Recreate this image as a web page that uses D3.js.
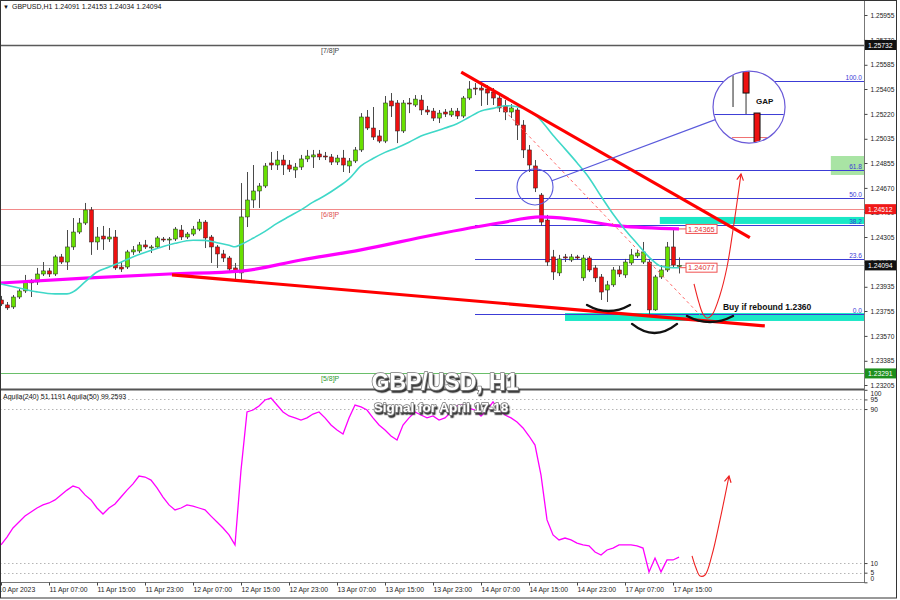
<!DOCTYPE html>
<html>
<head>
<meta charset="utf-8">
<script src="https://cdn.jsdelivr.net/npm/d3@7/dist/d3.min.js"></script>
<style>
html,body{margin:0;padding:0;background:#fff;}
svg{display:block;}
</style>
</head>
<body>
<svg id="chart" width="900" height="600"></svg>
<script>
// ---------------- DATA ----------------
const symbolLabel = "GBPUSD,H1";
// hourly candles, bar 0 = 10 Apr 23:00 ... bar 113 = 17 Apr 16:00
const opens = [
1.23837,1.23800,1.23785,1.23859,1.23904,1.23979,1.23971,1.24030,1.24053,1.24030,
1.24157,1.24119,1.24231,1.24342,1.24409,1.24506,1.24268,1.24312,1.24290,1.24305,
1.24082,1.24082,1.24194,1.24201,1.24246,1.24224,1.24231,1.24290,1.24283,1.24290,
1.24357,1.24305,1.24327,1.24364,1.24416,1.24305,1.24231,1.24179,1.24149,1.24075,
1.24038,1.24454,1.24580,1.24647,1.24684,1.24855,1.24840,1.24877,1.24840,1.24803,
1.24825,1.24885,1.24900,1.24922,1.24907,1.24900,1.24862,1.24892,1.24833,1.24870,
1.24952,1.25197,1.25115,1.25056,1.25018,1.25316,1.25301,1.25093,1.25301,1.25286,
1.25323,1.25249,1.25241,1.25189,1.25234,1.25212,1.25241,1.25204,1.25338,1.25412,
1.25412,1.25405,1.25382,1.25338,1.25279,1.25234,1.25249,1.25137,1.24952,1.24833,
1.24617,1.24431,1.24157,1.24038,1.24157,1.24134,1.24157,1.24001,1.24149,1.24075,
1.24008,1.23911,1.23949,1.24060,1.24023,1.24112,1.24164,1.24119,1.24119,1.23763,
1.24008,1.24060,1.24231,1.24091];
const highs = [
1.23867,1.23822,1.23874,1.23918,1.24023,1.23993,1.24075,1.24119,1.24075,1.24172,
1.24179,1.24357,1.24446,1.24446,1.24558,1.24528,1.24379,1.24387,1.24372,1.24357,
1.24119,1.24209,1.24238,1.24268,1.24283,1.24246,1.24312,1.24305,1.24305,1.24379,
1.24394,1.24342,1.24387,1.24439,1.24431,1.24320,1.24246,1.24209,1.24164,1.24112,
1.24706,1.24788,1.24840,1.24706,1.24855,1.24937,1.24944,1.24915,1.24877,1.24855,
1.24915,1.24952,1.24952,1.24952,1.24937,1.24922,1.24915,1.24952,1.24892,1.24974,
1.25226,1.25249,1.25271,1.25100,1.25353,1.25375,1.25323,1.25323,1.25338,1.25360,
1.25360,1.25279,1.25264,1.25249,1.25256,1.25264,1.25264,1.25353,1.25464,1.25449,
1.25442,1.25434,1.25412,1.25368,1.25323,1.25293,1.25264,1.25174,1.24989,1.24877,
1.24632,1.24469,1.24209,1.24172,1.24179,1.24179,1.24172,1.24172,1.24164,1.24097,
1.24030,1.23979,1.24082,1.24090,1.24142,1.24216,1.24209,1.24268,1.24134,1.24023,
1.24097,1.24268,1.24365,1.24153];
const lows = [
1.23792,1.23763,1.23770,1.23844,1.23889,1.23859,1.23949,1.24015,1.24008,1.24015,
1.24104,1.24060,1.24209,1.24327,1.24394,1.24172,1.24209,1.24209,1.24268,1.24060,
1.24045,1.24067,1.24172,1.24186,1.24216,1.24186,1.24216,1.24268,1.24209,1.24275,
1.24283,1.24290,1.24312,1.24349,1.24223,1.24112,1.24075,1.24119,1.24045,1.23986,
1.23986,1.24379,1.24521,1.24521,1.24669,1.24803,1.24803,1.24766,1.24788,1.24744,
1.24803,1.24862,1.24818,1.24877,1.24877,1.24840,1.24840,1.24788,1.24781,1.24855,
1.24937,1.25100,1.25026,1.25003,1.25003,1.25197,1.25003,1.25078,1.25226,1.25271,
1.25212,1.25212,1.25167,1.25152,1.25197,1.25197,1.25182,1.25189,1.25323,1.25360,
1.25279,1.25286,1.25286,1.25234,1.25174,1.25189,1.25026,1.24892,1.24788,1.24639,
1.24387,1.24090,1.23986,1.24015,1.24119,1.24119,1.24134,1.23979,1.24045,1.23971,
1.23837,1.23822,1.23934,1.24008,1.24001,1.24097,1.24149,1.24104,1.23733,1.23756,
1.23993,1.24045,1.24082,1.24034];
const closes = [
1.23807,1.23778,1.23859,1.23904,1.23971,1.23964,1.24030,1.24053,1.24030,1.24157,
1.24119,1.24231,1.24342,1.24409,1.24506,1.24268,1.24305,1.24290,1.24305,1.24075,
1.24067,1.24194,1.24209,1.24246,1.24231,1.24231,1.24298,1.24283,1.24290,1.24364,
1.24305,1.24327,1.24364,1.24416,1.24298,1.24231,1.24179,1.24149,1.24067,1.24045,
1.24454,1.24580,1.24647,1.24684,1.24833,1.24840,1.24877,1.24840,1.24810,1.24825,
1.24885,1.24907,1.24915,1.24900,1.24900,1.24862,1.24892,1.24840,1.24870,1.24952,
1.25197,1.25115,1.25048,1.25018,1.25301,1.25279,1.25093,1.25301,1.25294,1.25330,
1.25249,1.25234,1.25189,1.25226,1.25219,1.25241,1.25204,1.25338,1.25405,1.25405,
1.25397,1.25375,1.25338,1.25264,1.25234,1.25264,1.25137,1.24952,1.24840,1.24669,
1.24416,1.24119,1.24045,1.24142,1.24149,1.24157,1.24149,1.24149,1.24060,1.24001,
1.23896,1.23949,1.24060,1.24030,1.24119,1.24172,1.24186,1.24194,1.23763,1.24008,
1.24060,1.24231,1.24097,1.24094];

// moving averages (bar index, price)
const maFastIdx = [0,3,6,9,11,12,14,16,18,20,23,26,29,32,34,36,38,39,40,42,44,46,48,50,52,54,56,58,60,62,64,66,68,70,72,74,76,78,80,82,84,86,88,90,92,94,96,98,100,102,104,106,108,110,112,113];
const maFastVal = [1.23956,1.23926,1.23897,1.23882,1.23882,1.23897,1.23971,1.24045,1.24082,1.24118,1.24175,1.24219,1.24258,1.24281,1.24280,1.24262,1.24244,1.24232,1.24250,1.24296,1.24347,1.24406,1.24457,1.24507,1.24564,1.24613,1.24671,1.24737,1.24833,1.24888,1.24934,1.24968,1.25009,1.25055,1.25085,1.25115,1.25147,1.25195,1.25242,1.25261,1.25281,1.25273,1.25244,1.25171,1.25061,1.24960,1.24857,1.24746,1.24608,1.24476,1.24359,1.24257,1.24156,1.24087,1.24076,1.24077];
const maSlowIdx = [0,14,28,40,50,60,72,83,90,95,103,113];
const maSlowVal = [1.23963,1.24000,1.24030,1.24052,1.24134,1.24209,1.24320,1.24409,1.24454,1.24439,1.24387,1.24365];

// indicator (Aquila) values per bar
const aquilaVal = [
19.4,23.5,28.2,31.3,34.4,36.5,38.6,40.2,41.2,42.8,
45.4,47.9,50.0,49.0,45.4,42.8,38.6,35.5,38.6,40.7,
44.3,47.9,51.1,55.2,54.7,53.1,49.0,44.3,40.2,37.6,
38.6,40.2,39.6,38.6,37.6,34.4,31.3,28.2,24.6,19.4,
58.3,88.5,89.5,91.6,94.7,95.7,92.1,88.5,86.4,85.4,
84.3,85.4,87.4,88.5,85.4,81.7,79.1,77.0,85.4,92.1,
91.1,89.5,85.4,81.7,79.1,76.0,73.9,81.7,85.4,88.5,
86.9,85.4,86.4,84.3,85.4,88.5,91.6,92.1,90.5,89.5,
86.4,89.5,93.7,89.5,86.9,85.4,83.3,80.2,76.0,71.3,
55.7,32.4,24.6,22.0,23.0,22.0,20.4,19.4,18.9,15.7,
14.2,16.8,17.8,19.4,19.4,19.4,18.9,17.8,5.4,12.6,
5.4,11.6,11.6,13.1];
const indicatorHeader = "Aquila(240) 51.1191  Aquila(50) 99.2593";
const indicatorLevels = [100, 95, 90, 10, 5, 0];
const indicatorDotted = [95, 90, 10, 5];

// axis ticks
const priceTicks = [1.25955,1.25770,1.25585,1.25405,1.25220,1.25035,1.24855,1.24670,1.24490,1.24305,1.24120,1.23935,1.23755,1.23570,1.23385,1.23205];
const timeTickIdx = [0,8,16,24,32,40,48,56,64,72,80,88,96,104,112];
const timeTickLabels = ["10 Apr 2023","11 Apr 07:00","11 Apr 15:00","11 Apr 23:00","12 Apr 07:00","12 Apr 15:00","12 Apr 23:00","13 Apr 07:00","13 Apr 15:00","13 Apr 23:00","14 Apr 07:00","14 Apr 15:00","14 Apr 23:00","17 Apr 07:00","17 Apr 15:00"];

// horizontal levels
const murreyNames = ["[7/8]P","[6/8]P","[5/8]P"];
const murreyPrices = [1.25732,1.24512,1.23291];
const fibRatios = [100,61.8,50,38.2,23.6,0];
const fibHigh = 1.25464, fibLow = 1.23733, fibStartIdx = 79;

// annotation objects (bar index, price)
const zoneUpper = {start:109.8, top:1.24454, bottom:1.24402};
const zoneLower = {start:94, top:1.23740, bottom:1.23681};
const zoneFib = {start:138.3, top:1.24907, bottom:1.24766};
const trendUpper = [[76.7,1.25530],[124.8,1.24300]];
const trendLower = [[28.5,1.24023],[127.3,1.23644]];
const trendDashed = [[83.2,1.25278],[116.5,1.23725]];
const projPath = [[115.5,1.23956],[116.33,1.23815],[117,1.23733],[117.67,1.23703],[118.5,1.23726],[119.83,1.23874],[121,1.24082],[122,1.24357],[123.33,1.24773]];
const projInd = [[115.17,13.7],[115.83,7.4],[116.5,3.3],[117.33,3.8],[118.5,14.2],[119.83,32.4],[121.33,55.2]];
const smiles = [[97.67,104.83,1.23800,1.23755],[105.17,112.67,1.23659,1.23592],[114.33,122,1.23718,1.23673]];
const gapCircle = {idx:89, price:1.24677};
const magnifier = {idx:124.67, price:1.25271};
const buyText = {idx:120.33, price:1.23763, text:"Buy if rebound 1.2360"};
const titleText = "GBP/USD, H1";
const subtitleText = "Signal for April 17-18";

// ---------------- DRAWING ----------------
const FONT = '"Liberation Sans", Arial, sans-serif';
const svg = d3.select('#chart');
const PR = 864, MB = 389, IT = 390, IB = 582;
const x = d3.scaleLinear().domain([0, 143.83]).range([1, 864]);
const y = d3.scaleLinear().domain([1.23205, 1.25955]).range([385, 15]);
const yI = d3.scaleLinear().domain([0, 100]).range([582.3, 389.8]);
const fmtP = d3.format('.5f');
const last = closes.length - 1;

svg.append('rect').attr('width',900).attr('height',600).attr('fill','#fff');
const defs = svg.append('defs');
defs.append('clipPath').attr('id','cm').append('rect').attr('x',0).attr('y',0).attr('width',PR).attr('height',MB);
defs.append('clipPath').attr('id','ci').append('rect').attr('x',0).attr('y',IT).attr('width',PR).attr('height',IB-IT);
const shadow = defs.append('filter').attr('id','tshadow').attr('x','-10%').attr('y','-30%').attr('width','120%').attr('height','170%');
shadow.append('feDropShadow').attr('dx',1.3).attr('dy',2.2).attr('stdDeviation',0.6)
  .attr('flood-color','#333').attr('flood-opacity',0.95);
const gm = svg.append('g').attr('clip-path','url(#cm)');
const gi = svg.append('g').attr('clip-path','url(#ci)');

// zones
function zone(z, col){
  gm.append('rect').attr('x',x(z.start)).attr('y',y(z.top)).attr('width',PR - x(z.start))
    .attr('height',y(z.bottom)-y(z.top)).attr('fill',col);
}
zone(zoneUpper,'#19e8c6');
zone(zoneLower,'#19e8c6');
zone(zoneFib,'#a9e4a4');

// murrey lines
const mmColors = ['#5a5a5a','#f28a8a','#6abf6a'];
const mmWidths = [1.4,1.2,1.2];
murreyPrices.forEach((p,k)=>{
  gm.append('line').attr('x1',0).attr('x2',PR).attr('y1',Math.round(y(p))+0.5).attr('y2',Math.round(y(p))+0.5)
    .attr('stroke',mmColors[k]).attr('stroke-width',mmWidths[k]);
  gm.append('text').attr('x',321).attr('y',y(p)+8).text(murreyNames[k])
    .attr('font-family',FONT).attr('font-size',7).attr('fill',k===0?'#444':(k===1?'#e05050':'#2f9a2f'));
});
// bid line
gm.append('line').attr('x1',0).attr('x2',PR).attr('y1',Math.round(y(closes[last]))+0.5).attr('y2',Math.round(y(closes[last]))+0.5)
  .attr('stroke','#b8b8b8').attr('stroke-width',1);

// fibonacci
fibRatios.forEach(r=>{
  const p = fibLow + (fibHigh-fibLow)*r/100;
  const yy = Math.round(y(p))+0.5;
  gm.append('line').attr('x1',x(fibStartIdx)).attr('x2',PR).attr('y1',yy).attr('y2',yy)
    .attr('stroke','#3c3cd6').attr('stroke-width',1);
  gm.append('text').attr('x',862).attr('y',yy-2).attr('text-anchor','end').text(d3.format('.1f')(r))
    .attr('font-family',FONT).attr('font-size',6.6).attr('fill','#3c3cd6');
});

// candles
const candles = d3.range(opens.length).map(i=>({i,o:opens[i],h:highs[i],l:lows[i],c:closes[i]}));
const gc = gm.append('g');
gc.selectAll('line.w').data(candles).join('line').attr('class','w')
  .attr('x1',d=>Math.round(x(d.i))+0.5).attr('x2',d=>Math.round(x(d.i))+0.5)
  .attr('y1',d=>y(d.h)).attr('y2',d=>y(d.l)).attr('stroke','#4a4a4a').attr('stroke-width',1);
gc.selectAll('rect.b').data(candles).join('rect').attr('class','b')
  .attr('x',d=>Math.round(x(d.i))-1.5).attr('width',4)
  .attr('y',d=>Math.min(y(d.o),y(d.c))).attr('height',d=>Math.max(1,Math.abs(y(d.o)-y(d.c))))
  .attr('fill',d=>d.c>=d.o?'#68e000':'#ee1010').attr('stroke','#222').attr('stroke-width',0.5);

// moving averages
const lineIdx = d3.line().x(d=>x(d[0])).y(d=>y(d[1])).curve(d3.curveMonotoneX);
gm.append('path').attr('d',lineIdx(maSlowIdx.map((v,k)=>[v,maSlowVal[k]])))
  .attr('fill','none').attr('stroke','#ff00ff').attr('stroke-width',3.2);
gm.append('path').attr('d',lineIdx(maFastIdx.map((v,k)=>[v,maFastVal[k]])))
  .attr('fill','none').attr('stroke','#3fd8c8').attr('stroke-width',1.6);

// trend lines
const lineStraight = d3.line().x(d=>x(d[0])).y(d=>y(d[1]));
gm.append('path').attr('d',lineStraight(trendDashed)).attr('fill','none').attr('stroke','#ff6a6a')
  .attr('stroke-width',1).attr('stroke-dasharray','3,3');
[trendUpper,trendLower].forEach(t=>{
  gm.append('path').attr('d',lineStraight(t)).attr('fill','none').attr('stroke','#ff0000').attr('stroke-width',3.2);
});

// smiles
smiles.forEach(s=>{
  const x1=x(s[0]), x2=x(s[1]), ye=y(s[2]), yb=y(s[3]);
  const cy = 2*yb-ye;
  gm.append('path').attr('d',`M${x1},${ye} Q${(x1+x2)/2},${cy} ${x2},${ye}`)
    .attr('fill','none').attr('stroke','#111').attr('stroke-width',2.4).attr('stroke-linecap','round');
});

// arrow helper
function arrowHead(g, p1, p2, color){
  const a = Math.atan2(p2[1]-p1[1], p2[0]-p1[0]);
  const L=7, w=0.5;
  const pts = [[p2[0]-L*Math.cos(a-w), p2[1]-L*Math.sin(a-w)], p2, [p2[0]-L*Math.cos(a+w), p2[1]-L*Math.sin(a+w)]];
  g.append('path').attr('d', d3.line()(pts)).attr('fill','none').attr('stroke',color).attr('stroke-width',1.2);
}
// projection in main chart
const projPx = projPath.map(d=>[x(d[0]),y(d[1])]);
gm.append('path').attr('d',d3.line().curve(d3.curveCatmullRom)(projPx)).attr('fill','none')
  .attr('stroke','#ee2222').attr('stroke-width',1.1);
arrowHead(gm, projPx[projPx.length-2], projPx[projPx.length-1], '#ee2222');

// small gap circle + connector + magnifier
const gcx = x(gapCircle.idx), gcy = y(gapCircle.price), gr = 18;
const mx = x(magnifier.idx), my = y(magnifier.price), mr = 36;
gm.append('circle').attr('cx',gcx).attr('cy',gcy).attr('r',gr).attr('fill','none').attr('stroke','#5b5bdc').attr('stroke-width',1.1);
const ang = Math.atan2(my-gcy, mx-gcx);
gm.append('line').attr('x1',gcx+gr*Math.cos(ang)).attr('y1',gcy+gr*Math.sin(ang))
  .attr('x2',mx-mr*Math.cos(ang)).attr('y2',my-mr*Math.sin(ang)).attr('stroke','#5b5bdc').attr('stroke-width',1.1);
gm.append('circle').attr('cx',mx).attr('cy',my).attr('r',mr).attr('fill','#fff');
defs.append('clipPath').attr('id','cmag').append('circle').attr('cx',mx).attr('cy',my).attr('r',mr-0.5);
const gmag = gm.append('g').attr('clip-path','url(#cmag)');
gmag.append('line').attr('x1',mx-16).attr('x2',mx-16).attr('y1',my-36).attr('y2',my).attr('stroke','#777').attr('stroke-width',1.6);
gmag.append('line').attr('x1',mx-3).attr('x2',mx-3).attr('y1',my-14).attr('y2',my+8).attr('stroke','#555').attr('stroke-width',1.2);
gmag.append('rect').attr('x',mx-6).attr('y',my-40).attr('width',6).attr('height',26).attr('fill','#ee1010').attr('stroke','#111').attr('stroke-width',1);
gmag.append('line').attr('x1',mx-mr).attr('x2',mx+mr).attr('y1',my+7.5).attr('y2',my+7.5).attr('stroke','#3c3cd6').attr('stroke-width',1);
gmag.append('line').attr('x1',mx-17).attr('x2',mx+21).attr('y1',my+30.5).attr('y2',my+30.5).attr('stroke','#f07070').attr('stroke-width',1);
gmag.append('rect').attr('x',mx+5).attr('y',my+6).attr('width',6).attr('height',34).attr('fill','#ee1010').attr('stroke','#111').attr('stroke-width',1);
gm.append('circle').attr('cx',mx).attr('cy',my).attr('r',mr).attr('fill','none').attr('stroke','#6a5ad8').attr('stroke-width',1.2);
gm.append('text').attr('x',mx+7).attr('y',my-3).text('GAP').attr('font-family',FONT).attr('font-weight','bold')
  .attr('font-size',8).attr('fill','#111');

// MA value tags
function tag(price, label){
  const yy = y(price), x0 = x(last)+7;
  gm.append('line').attr('x1',x(last)).attr('x2',x0).attr('y1',yy).attr('y2',yy).attr('stroke','#f05050').attr('stroke-width',1);
  gm.append('rect').attr('x',x0).attr('y',yy-4.5).attr('width',31).attr('height',9).attr('fill','#fff').attr('stroke','#f05050').attr('stroke-width',1);
  gm.append('text').attr('x',x0+2).attr('y',yy+2.6).text(label).attr('font-family',FONT).attr('font-size',7.4).attr('fill','#e03030');
}
tag(maSlowVal[maSlowVal.length-1], fmtP(maSlowVal[maSlowVal.length-1]));
tag(maFastVal[maFastVal.length-1], fmtP(maFastVal[maFastVal.length-1]));

// buy text
gm.append('text').attr('x',x(buyText.idx)).attr('y',y(buyText.price)).text(buyText.text)
  .attr('font-family',FONT).attr('font-weight','bold').attr('font-size',8.5).attr('fill','#111');

// header
svg.append('text').attr('x',3).attr('y',9).text('\u25BC').attr('font-family',FONT).attr('font-size',6).attr('fill','#111');
svg.append('text').attr('x',12).attr('y',9)
  .text(`${symbolLabel}  ${fmtP(opens[last])} ${fmtP(highs[last])} ${fmtP(lows[last])} ${fmtP(closes[last])}`)
  .attr('font-family',FONT).attr('font-size',7).attr('fill','#111');

// ---------------- INDICATOR ----------------
indicatorDotted.forEach(v=>{
  gi.append('line').attr('x1',0).attr('x2',PR).attr('y1',Math.round(yI(v))+0.5).attr('y2',Math.round(yI(v))+0.5)
    .attr('stroke','#b5b5b5').attr('stroke-dasharray','1.5,2.5').attr('stroke-width',1);
});
gi.append('path').attr('d',d3.line().x((d,i)=>x(i)).y(d=>yI(d))(aquilaVal))
  .attr('fill','none').attr('stroke','#ff00ff').attr('stroke-width',1.3);
const projIPx = projInd.map(d=>[x(d[0]),yI(d[1])]);
gi.append('path').attr('d',d3.line().curve(d3.curveCatmullRom)(projIPx)).attr('fill','none')
  .attr('stroke','#ee2222').attr('stroke-width',1.1);
arrowHead(gi, projIPx[projIPx.length-2], projIPx[projIPx.length-1], '#ee2222');
svg.append('text').attr('x',3).attr('y',399).text(indicatorHeader).attr('font-family',FONT).attr('font-size',7).attr('fill','#111');

// ---------------- AXES & FRAME ----------------
svg.append('line').attr('x1',0).attr('x2',PR).attr('y1',389.5).attr('y2',389.5).attr('stroke','#555').attr('stroke-width',2);
svg.append('line').attr('x1',PR+0.5).attr('x2',PR+0.5).attr('y1',0).attr('y2',IB).attr('stroke','#777').attr('stroke-width',1);
svg.append('line').attr('x1',0).attr('x2',PR+1).attr('y1',IB+0.5).attr('y2',IB+0.5).attr('stroke','#777').attr('stroke-width',1.2);

const axR = svg.append('g').attr('transform',`translate(${PR+0.5},0)`)
  .call(d3.axisRight(y).tickValues(priceTicks).tickFormat(fmtP).tickSize(3).tickPadding(3));
axR.select('.domain').remove();
axR.selectAll('line').attr('stroke','#444');
axR.selectAll('text').attr('font-family',FONT).attr('font-size',6.6).attr('fill','#222');

const axI = svg.append('g').attr('transform',`translate(${PR+0.5},0)`)
  .call(d3.axisRight(yI).tickValues(indicatorLevels).tickFormat(d3.format('d')).tickSize(3).tickPadding(3));
axI.select('.domain').remove();
axI.selectAll('line').attr('stroke','#444');
axI.selectAll('text').attr('font-family',FONT).attr('font-size',6.6).attr('fill','#222')
  .attr('dy',d=>d===100?'0.85em':(d===0?'-0.2em':'0.32em'));

const axB = svg.append('g').attr('transform',`translate(0,${IB+0.5})`)
  .call(d3.axisBottom(x).tickValues(timeTickIdx).tickFormat((d,k)=>timeTickLabels[k]).tickSize(3).tickPadding(2));
axB.select('.domain').remove();
axB.selectAll('line').attr('stroke','#444');
axB.selectAll('text').attr('font-family',FONT).attr('font-size',6.8).attr('fill','#222').attr('text-anchor','start')
  .attr('x',(d,k)=>k===0?-3:0);

// level boxes on the price axis
const boxColors = ['#111','#f01818','#1d8f1d'];
murreyPrices.forEach((p,k)=>{
  svg.append('rect').attr('x',PR+1).attr('y',y(p)-5).attr('width',32).attr('height',10).attr('fill',boxColors[k]);
  svg.append('text').attr('x',PR+4).attr('y',y(p)+2.5).text(fmtP(p)).attr('font-family',FONT).attr('font-size',6.8).attr('fill','#fff');
});
svg.append('rect').attr('x',PR+1).attr('y',y(closes[last])-5).attr('width',32).attr('height',10).attr('fill','#111');
svg.append('text').attr('x',PR+4).attr('y',y(closes[last])+2.5).text(fmtP(closes[last])).attr('font-family',FONT).attr('font-size',6.8).attr('fill','#fff');

// outer frame
svg.append('rect').attr('x',0.5).attr('y',0.5).attr('width',896).attr('height',597.5).attr('fill','none').attr('stroke','#333').attr('stroke-width',1);

// ---------------- TITLE ----------------
function bigText(str, cx, by, size){
  svg.append('text').attr('x',cx).attr('y',by).text(str)
    .attr('font-family',FONT).attr('font-weight','bold').attr('font-size',size).attr('text-anchor','middle')
    .attr('fill','#fff').attr('stroke','#7a7a7a').attr('stroke-width',1.5)
    .attr('paint-order','stroke').attr('stroke-linejoin','round').attr('filter','url(#tshadow)');
}
bigText(titleText, 445, 390, 23);
bigText(subtitleText, 441, 412, 13.5);
</script>
</body>
</html>
